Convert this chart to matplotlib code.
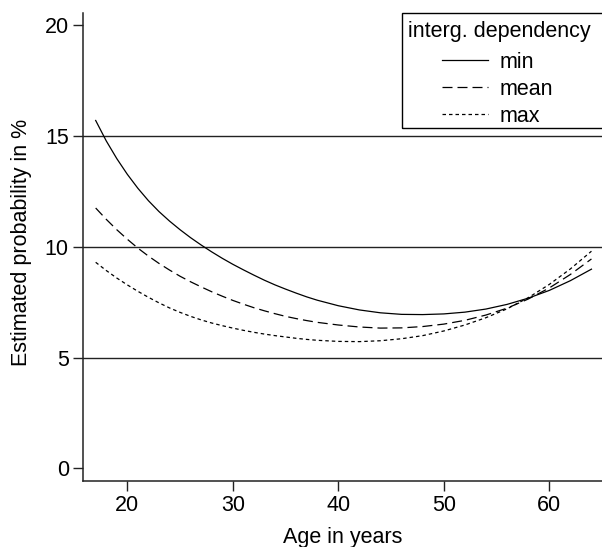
import numpy as np
import matplotlib
matplotlib.use("Agg")
import matplotlib.pyplot as plt
from matplotlib.patches import Rectangle

plt.rcParams['font.family'] = ['Liberation Sans', 'DejaVu Sans']
plt.rcParams['font.size'] = 15.5

# values
age = [17, 18, 19, 20, 21, 22, 23, 24, 25, 26, 27, 28, 29, 30, 31, 32, 33, 34,
       35, 36, 37, 38, 40, 42, 44, 46, 48, 50, 52, 54, 56, 58, 60, 62, 64]
p_min = [15.7, 14.78, 13.98, 13.27, 12.64, 12.08, 11.59, 11.16, 10.77, 10.41,
         10.08, 9.77, 9.48, 9.21, 8.96, 8.72, 8.49, 8.28, 8.09, 7.91, 7.74, 7.59,
         7.34, 7.15, 7.02, 6.95, 6.94, 6.97, 7.05, 7.19, 7.4, 7.68, 8.03, 8.47, 8.99]
p_mean = [11.75, 11.24, 10.77, 10.34, 9.94, 9.58, 9.25, 8.95, 8.67, 8.42,
          8.19, 7.97, 7.77, 7.58, 7.41, 7.25, 7.11, 6.98, 6.86, 6.76, 6.67, 6.59,
          6.47, 6.38, 6.33, 6.34, 6.4, 6.51, 6.68, 6.92, 7.23, 7.64, 8.14, 8.75, 9.45]
p_max = [9.3, 8.93, 8.59, 8.28, 7.99, 7.72, 7.47, 7.24, 7.04, 6.86,
         6.7, 6.56, 6.44, 6.33, 6.23, 6.14, 6.06, 5.99, 5.93, 5.87, 5.82, 5.78,
         5.73, 5.72, 5.76, 5.85, 5.99, 6.2, 6.47, 6.8, 7.2, 7.7, 8.3, 9.0, 9.8]
labels = ['min', 'mean', 'max']
hlines = [5, 10, 15]
xticks = [20, 30, 40, 50, 60]
yticks = [0, 5, 10, 15, 20]

W, H = 602, 547
fig = plt.figure(figsize=(W / 100, H / 100), dpi=100)
ax = fig.add_axes([82.7 / W, 1 - 481 / H, 1 - 82.7 / W, (481 - 13) / H])

for h in hlines:
    ax.axhline(h, color='#222222', lw=1.0, zorder=1)

l1, = ax.plot(age, p_min, color='black', lw=0.9, ls='-')
l2, = ax.plot(age, p_mean, color='black', lw=0.9, ls=(0, (8, 4)))
l3, = ax.plot(age, p_max, color='black', lw=0.9, ls=(0, (2.8, 2.4)))

ax.set_xlim(15.77, 65.0)
ax.set_ylim(-0.57, 20.55)
ax.set_xticks(xticks)
ax.set_yticks(yticks)
ax.spines['top'].set_visible(False)
ax.spines['right'].set_visible(False)
for s in ['left', 'bottom']:
    ax.spines[s].set_linewidth(1.1)
    ax.spines[s].set_color('#222222')
ax.tick_params(direction='out', length=7, width=1.0, color='#222222',
               labelsize=15.5, pad=3)

fig.text(27.5 / W, 1 - 242 / H, 'Estimated probability in %', rotation=90,
         rotation_mode='anchor', ha='center', va='baseline', fontsize=15.5)
fig.text((82.7 + 602) / 2 / W, 1 - 542.5 / H, 'Age in years',
         ha='center', va='baseline', fontsize=15.5)

# legend box
box = Rectangle((402.3 / W, 1 - 128.3 / H), 1.0, (128.3 - 13.3) / H,
                transform=fig.transFigure, fill=False, edgecolor='black',
                lw=1.0, clip_on=False)
fig.patches.append(box)
fig.text(408.3 / W, 1 - 37 / H, 'interg. dependency', ha='left', va='baseline',
         fontsize=15.5)
leg = fig.legend([l1, l2, l3], labels, loc='upper left',
                 bbox_to_anchor=(441.7 / W, 1 - 51.5 / H), frameon=False,
                 borderpad=0, borderaxespad=0, handlelength=2.14,
                 handletextpad=0.56, labelspacing=0.28, fontsize=15.5)

fig.savefig('out.png', dpi=100)
